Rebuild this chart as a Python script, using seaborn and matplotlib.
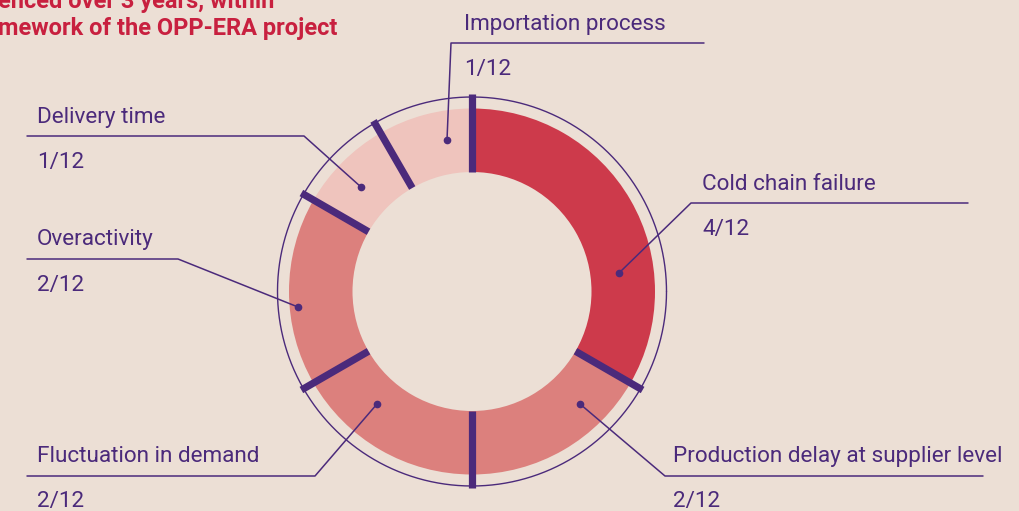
import matplotlib
matplotlib.use("Agg")
import matplotlib.pyplot as plt
import seaborn as sns
import numpy as np

# ---- data ----
categories = ["Cold chain failure", "Production delay at supplier level",
              "Fluctuation in demand", "Overactivity", "Delivery time",
              "Importation process"]
counts = [4, 2, 2, 2, 1, 1]
total = 12
value_labels = [f"{c}/{total}" for c in counts]
title_lines = ["enced over 3 years, within", "mework of the OPP-ERA project"]

# ---- style ----
BG = "#ecdfd5"
PURPLE = "#4b2a7b"
TITLE_RED = "#c8203f"
seg_colors = ["#cd3a4b", "#dc807d", "#dc807d", "#dc807d", "#efc4bd", "#efc4bd"]

sns.set_theme(style="white", rc={"figure.facecolor": BG, "axes.facecolor": BG,
                                 "savefig.facecolor": BG})
plt.rcParams["font.family"] = ["Roboto", "DejaVu Sans"]

W, H = 1020, 511
fig = plt.figure(figsize=(W / 100, H / 100), dpi=100)
ax = fig.add_axes([0, 0, 1, 1])

# donut geometry (pixels)
cx, cy = 472.0, 291.5
r_out, r_in = 183.0, 119.5
r_ring = 194.5
r_sep_out = 197.0

ax.pie(counts, colors=seg_colors, startangle=-90, counterclock=True,
       radius=r_out, center=(cx, cy), frame=False,
       wedgeprops=dict(width=r_out - r_in, linewidth=0))

# thin outer circle
t = np.linspace(0, 2 * np.pi, 720)
ax.plot(cx + r_ring * np.cos(t), cy + r_ring * np.sin(t), color=PURPLE, lw=1.0)

# separators at segment boundaries (data angles, y inverted)
bounds = -90 + 360 * np.concatenate([[0], np.cumsum(counts)[:-1]]) / total
for a in np.deg2rad(bounds):
    ax.plot([cx + r_in * np.cos(a), cx + r_sep_out * np.cos(a)],
            [cy + r_in * np.sin(a), cy + r_sep_out * np.sin(a)],
            color=PURPLE, lw=5.2, solid_capstyle="butt")

# annotation layout: dot, elbow, line end, text x
layout = {
    "Cold chain failure": dict(dot=(619, 273), elbow=(691, 203), end=968, tx=702),
    "Production delay at supplier level": dict(dot=(580, 404), elbow=(665, 476), end=983, tx=673),
    "Fluctuation in demand": dict(dot=(377, 404), elbow=(315, 476), end=27, tx=37),
    "Overactivity": dict(dot=(298, 307), elbow=(178, 259), end=27, tx=37),
    "Delivery time": dict(dot=(361, 187), elbow=(304, 136), end=27, tx=37),
    "Importation process": dict(dot=(447, 140), elbow=(451, 43), end=704, tx=464),
}

FS = 16.2
for cat, val in zip(categories, value_labels):
    L = layout[cat]
    (dx, dy), (ex, ey) = L["dot"], L["elbow"]
    ax.plot([dx, ex, L["end"]], [dy, ey, ey], color=PURPLE, lw=1.1)
    ax.plot([dx], [dy], "o", color=PURPLE, ms=4.5)
    ax.text(L["tx"], ey - 13.5, cat, color=PURPLE, fontsize=FS, va="baseline", ha="left")
    ax.text(L["tx"], ey + 31.5, val, color=PURPLE, fontsize=FS, va="baseline", ha="left")

# clipped title fragments (cut by the image edge as in the source)
ax.text(-2, 8, title_lines[0], color=TITLE_RED, fontsize=17, fontweight="bold",
        va="baseline", ha="left")
ax.text(-2, 35, title_lines[1], color=TITLE_RED, fontsize=17, fontweight="bold",
        va="baseline", ha="left")

ax.set_xlim(0, W)
ax.set_ylim(H, 0)
ax.set_aspect("equal")
ax.axis("off")

fig.savefig("out.png", dpi=100, facecolor=BG)
